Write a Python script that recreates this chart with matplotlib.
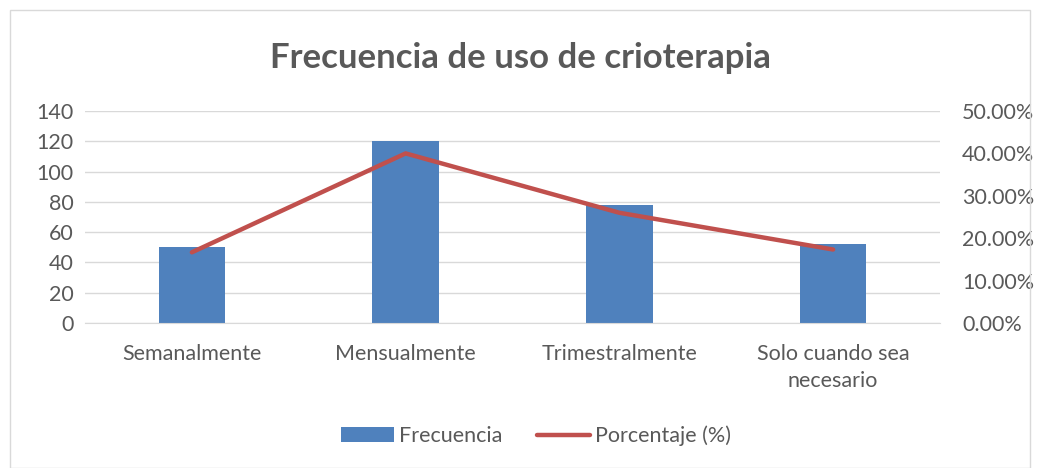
import numpy as np
import matplotlib
matplotlib.use("Agg")
import matplotlib.pyplot as plt
from matplotlib.patches import Rectangle
from matplotlib.ticker import FuncFormatter

categorias = ["Semanalmente", "Mensualmente", "Trimestralmente", "Solo cuando sea\nnecesario"]
frecuencia = [50, 120, 78, 52]
porcentaje = [16.67, 40.00, 26.00, 17.33]

plt.rcParams['font.family'] = ['Lato', 'DejaVu Sans']
gris = '#595959'

fig = plt.figure(figsize=(10.4, 4.68), dpi=100)
fig.patches.append(Rectangle((10 / 1040, 0), 1 - 20 / 1040, 1 - 10 / 468,
                             transform=fig.transFigure, fill=False,
                             edgecolor='#D9D9D9', linewidth=1))
ax = fig.add_axes([85 / 1040, 1 - 323 / 468, 855 / 1040, 212 / 468])
ax2 = ax.twinx()

x = np.arange(len(categorias))
ax.bar(x, frecuencia, width=0.31, color='#4F81BD', label='Frecuencia', zorder=2)
ax.set_ylim(0, 140)
ax.set_yticks(range(0, 141, 20))
ax.set_xlim(-0.5, len(categorias) - 0.5)
ax.set_xticks(x)
ax.set_xticklabels(categorias, fontsize=15.5, color=gris, linespacing=1.45)
ax.grid(axis='y', color='#D9D9D9', linewidth=1, zorder=0)
ax.set_axisbelow(True)

ax2.plot(x, porcentaje, color='#C0504D', linewidth=3.2, solid_capstyle='round',
         solid_joinstyle='round', label='Porcentaje (%)')
ax2.set_ylim(0, 50)
ax2.set_yticks(range(0, 51, 10))
ax2.yaxis.set_major_formatter(FuncFormatter(lambda v, p: f"{v:.2f}%"))

for a in (ax, ax2):
    for s in a.spines.values():
        s.set_visible(False)
    a.tick_params(length=0, labelsize=15.5, labelcolor=gris)
ax.tick_params(axis='y', pad=8)
ax.tick_params(axis='x', pad=15)
ax2.tick_params(axis='y', pad=16)
ax.spines['bottom'].set_visible(True)
ax.spines['bottom'].set_color('#D9D9D9')

fig.text(0.5, 1 - 58 / 468, "Frecuencia de uso de crioterapia", ha='center', va='center',
         fontsize=25, fontweight='bold', color=gris)

h1, l1 = ax.get_legend_handles_labels()
h2, l2 = ax2.get_legend_handles_labels()
fig.legend(h1 + h2, l1 + l2, loc='center', bbox_to_anchor=(0.515, 1 - 436 / 468),
           ncol=2, frameon=False, fontsize=15.5, labelcolor=gris,
           handlelength=2.5, handletextpad=0.2, columnspacing=1.6)

fig.savefig("out.png", dpi=100)
